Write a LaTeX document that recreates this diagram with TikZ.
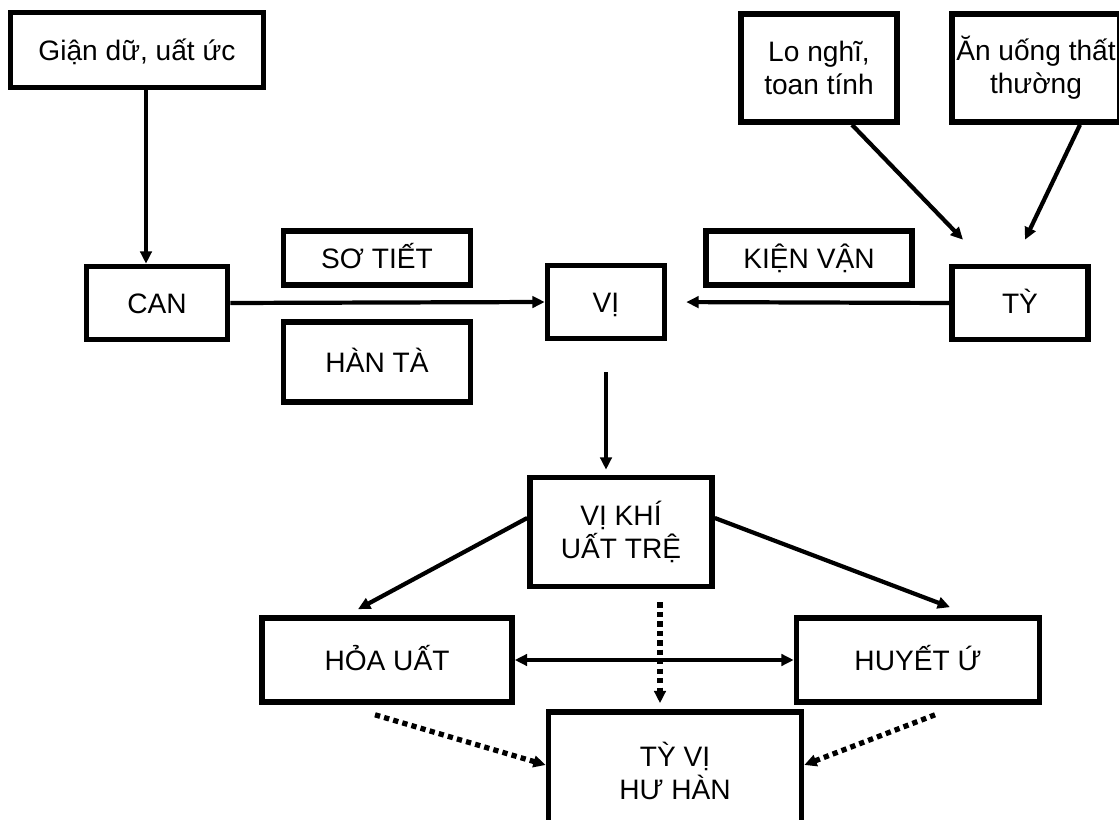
\documentclass[tikz,border=0pt]{standalone}
\usepackage{fontspec}
\setmainfont{Liberation Sans}
\usetikzlibrary{arrows.meta, positioning}

\begin{document}
\begin{tikzpicture}[x=0.02cm,y=-0.02cm,>={Triangle[length=7pt,width=6.5pt]}]
  \tikzstyle{box}=[draw, line width=3.2pt, align=center, inner sep=0pt,
                   font=\fontsize{16}{19}\selectfont]
  \tikzstyle{oneline}=[box, text height=11.5pt, text depth=0pt]
  \tikzstyle{arr}=[->, line width=2.4pt]
  \tikzstyle{dots}=[->, line width=3pt, dash pattern=on 3pt off 2.4pt]

  \useasboundingbox (0,0) rectangle (1119,820);

    % causes
    \node[oneline, minimum width=5.06cm, minimum height=1.5cm] (gian) at (137,50)  {Giận dữ, uất ức};
    \node[box, minimum width=3.12cm, minimum height=2.16cm]    (lo)   at (819,68)  {Lo nghĩ,\\toan tính};
    \node[box, minimum width=3.36cm, minimum height=2.16cm]    (an)   at (1036,68) {Ăn uống thất\\thường};

    % organs
    \node[oneline, minimum width=2.82cm, minimum height=1.46cm] (can)  at (157,303)  {CAN};
    \node[oneline, minimum width=2.34cm, minimum height=1.46cm] (vi)   at (606,302)  {VỊ};
    \node[oneline, minimum width=2.72cm, minimum height=1.46cm] (ty)   at (1020,303) {TỲ};
    \node[oneline, minimum width=3.74cm, minimum height=1.08cm] (so)   at (377,258)  {SƠ TIẾT};
    \node[oneline, minimum width=3.74cm, minimum height=1.6cm]  (han)  at (377,362)  {HÀN TÀ};
    \node[oneline, minimum width=4.12cm, minimum height=1.08cm] (kien) at (809,258)  {KIỆN VẬN};

    % results
    \node[box, minimum width=3.64cm, minimum height=2.18cm]     (vikhi) at (621,532) {VỊ KHÍ\\UẤT TRỆ};
    \node[oneline, minimum width=5.0cm,  minimum height=1.68cm] (hoa)   at (387,660) {HỎA UẤT};
    \node[oneline, minimum width=4.86cm, minimum height=1.68cm] (huyet) at (918,660) {HUYẾT Ứ};
    \node[box, minimum width=5.06cm, minimum height=2.36cm]     (tyvi)  at (675,771) {TỲ VỊ\\HƯ HÀN};

    \draw[arr] ([xshift=0.18cm]gian.south) -- ([xshift=0.18cm]gian.south |- can.north);
    \draw[arr] ([xshift=0.66cm]lo.south) -- ([xshift=-1.14cm,yshift=0.48cm]ty.north);
    \draw[arr] ([xshift=0.88cm]an.south) -- ([xshift=0.1cm,yshift=0.48cm]ty.north);
    \draw[arr] (can.east) -- (vi.west);
    \draw[arr, shorten >=0.38cm] (ty.west) -- (vi.east);
    \draw[arr, shorten <=0.62cm, shorten >=0.1cm] (vi.south) -- (vi.south |- vikhi.north);
    \draw[arr] ([yshift=0.28cm]vikhi.west) -- ([xshift=-0.58cm,yshift=0.12cm]hoa.north);
    \draw[arr] ([yshift=0.28cm]vikhi.east) -- ([xshift=0.64cm,yshift=0.16cm]huyet.north);
    \draw[arr, <->] (hoa.east) -- (huyet.west);

    \draw[dots] ([xshift=0.78cm,yshift=-0.26cm]vikhi.south) -- ([xshift=0.78cm,yshift=0.12cm]vikhi.south |- tyvi.north);
    \draw[dots] ([xshift=-0.24cm,yshift=-0.2cm]hoa.south) -- ([yshift=0.12cm]tyvi.west);
    \draw[dots] ([xshift=0.34cm,yshift=-0.2cm]huyet.south) -- ([yshift=0.12cm]tyvi.east);
\end{tikzpicture}
\end{document}
